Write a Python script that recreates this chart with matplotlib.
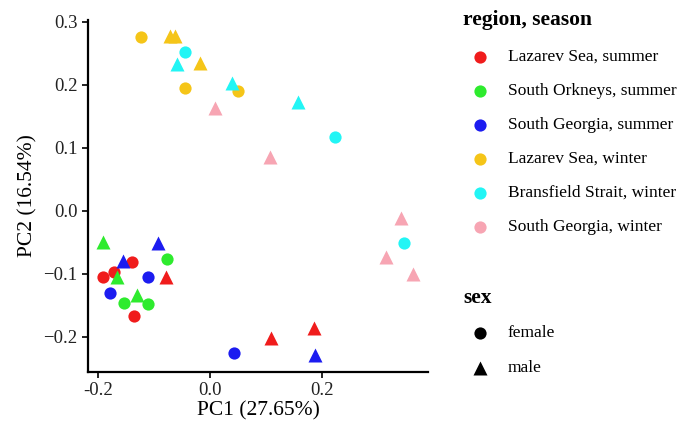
import matplotlib
matplotlib.use("Agg")
import matplotlib.pyplot as plt
from matplotlib.lines import Line2D

plt.rcParams['font.family'] = ['Liberation Serif', 'DejaVu Serif']

groups = ["Lazarev Sea, summer", "South Orkneys, summer", "South Georgia, summer",
          "Lazarev Sea, winter", "Bransfield Strait, winter", "South Georgia, winter"]
group_colors = ["#F01C1C", "#2EEB2E", "#1C1CF0", "#F5C518", "#22F5F5", "#F7A5B3"]
sexes = ["female", "male"]
sex_markers = ["o", "^"]

pc1 = [-0.139, -0.191, -0.171, -0.135, -0.078, 0.109, 0.185,
       -0.190, -0.166, -0.130, -0.077, -0.153, -0.110,
       -0.093, -0.155, 0.187, -0.110, -0.178, 0.043,
       -0.123, -0.0445, 0.050, -0.071, -0.062, -0.018,
       -0.0445, 0.223, 0.346, -0.059, 0.039, 0.157,
       0.009, 0.107, 0.340, 0.313, 0.361]
pc2 = [-0.081, -0.105, -0.097, -0.167, -0.105, -0.202, -0.186,
       -0.049, -0.105, -0.133, -0.076, -0.146, -0.148,
       -0.051, -0.079, -0.229, -0.105, -0.130, -0.225,
       0.276, 0.195, 0.190, 0.277, 0.277, 0.235,
       0.252, 0.117, -0.051, 0.233, 0.203, 0.173,
       0.163, 0.086, -0.011, -0.073, -0.100]
group = [0, 0, 0, 0, 0, 0, 0,
         1, 1, 1, 1, 1, 1,
         2, 2, 2, 2, 2, 2,
         3, 3, 3, 3, 3, 3,
         4, 4, 4, 4, 4, 4,
         5, 5, 5, 5, 5]
sex = [0, 0, 0, 0, 1, 1, 1,
       1, 1, 1, 0, 0, 0,
       1, 1, 1, 0, 0, 0,
       0, 0, 0, 1, 1, 1,
       0, 0, 0, 1, 1, 1,
       1, 1, 1, 1, 1]

x_ticks = [-0.2, 0.0, 0.2]
y_ticks = [-0.2, -0.1, 0.0, 0.1, 0.2, 0.3]

W, H = 692, 422
fig = plt.figure(figsize=(W / 100, H / 100), dpi=100)
ax = fig.add_axes([88 / W, (H - 372) / H, 340 / W, 352 / H])

ms = {"o": 8.8, "^": 10.5}
for x, y, g, s in zip(pc1, pc2, group, sex):
    m = sex_markers[s]
    ax.plot([x], [y], linestyle="none", marker=m, markersize=ms[m],
            markerfacecolor=group_colors[g], markeredgecolor="none")

ax.set_xlim(-0.2173, 0.388)
ax.set_ylim(-0.2556, 0.303)
ax.set_xticks(x_ticks)
ax.set_xticklabels([f"{t:.1f}" for t in x_ticks])
ax.set_yticks(y_ticks)
ax.set_yticklabels([f"{t:.1f}".replace("-", "\u2212") for t in y_ticks])
for sp in ["top", "right"]:
    ax.spines[sp].set_visible(False)
for sp in ["left", "bottom"]:
    ax.spines[sp].set_linewidth(1.6)
    ax.spines[sp].set_color("black")
ax.tick_params(axis="both", direction="out", length=4, width=1.2,
               labelsize=13.5, colors="black", labelcolor="#222222", pad=3.5)
ax.set_xlabel("PC1 (27.65%)", fontsize=15.5, labelpad=1)
ax.set_ylabel("PC2 (16.54%)", fontsize=15.5, labelpad=4)

# Legends (drawn in figure pixel coordinates)
def fx(px):
    return px / W

def fy(py):
    return (H - py) / H

fig.text(fx(463), fy(20), "region, season", fontsize=15.5, fontweight="bold",
         va="center", ha="left")
ys = [57, 91, 125, 159, 193, 227]
for lab, col, yy in zip(groups, group_colors, ys):
    fig.add_artist(Line2D([fx(480)], [fy(yy)], marker="o", markersize=8.8,
                          markerfacecolor=col, markeredgecolor="none",
                          linestyle="none", transform=fig.transFigure))
    fig.text(fx(508), fy(yy), lab, fontsize=12.5, va="center", ha="left")

fig.text(fx(463), fy(298), "sex", fontsize=15.5, fontweight="bold",
         va="center", ha="left")
for lab, m, yy in zip(sexes, sex_markers, [333, 368]):
    fig.add_artist(Line2D([fx(480)], [fy(yy)], marker=m, markersize=ms[m],
                          markerfacecolor="black", markeredgecolor="none",
                          linestyle="none", transform=fig.transFigure))
    fig.text(fx(508), fy(yy), lab, fontsize=12.5, va="center", ha="left")

fig.savefig("out.png", dpi=100, facecolor="white")
